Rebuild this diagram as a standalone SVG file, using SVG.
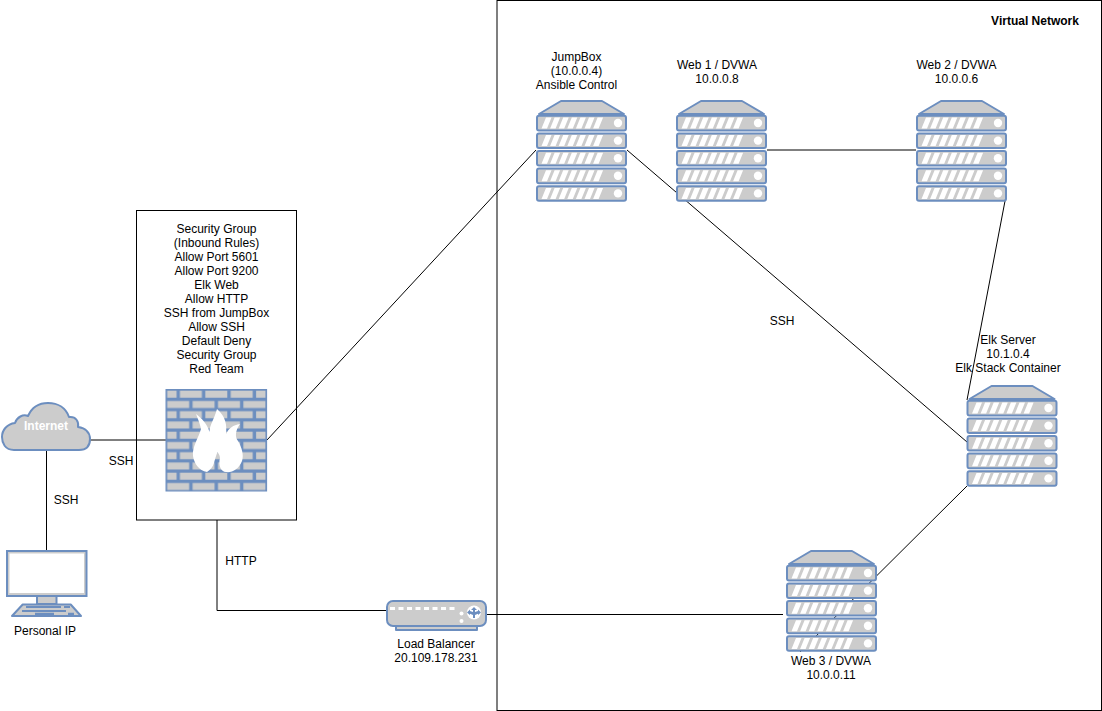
<svg xmlns="http://www.w3.org/2000/svg" width="1102" height="711" viewBox="0 0 1102 711">
<style>
text{font-family:"Liberation Sans",Arial,sans-serif;font-size:12px;fill:#000;text-anchor:middle}
.b{font-weight:bold}
.w{fill:#fff}
.line{fill:none;stroke:#000;stroke-width:1}
.box{fill:#fff;stroke:#000;stroke-width:1}
.g{fill:#ccc;stroke:#6c8ebf;stroke-width:2;stroke-linejoin:round}
.blue{fill:#6c8ebf}
.white{fill:#fff}
</style>
<defs>
<g id="slot">
<rect class="g" x="1" y="0.800" width="89" height="14.600" rx="2"/>
<path class="white" d="M5.500 13.500L10 2.500H15.500L11 13.500ZM14.100 13.500L18.600 2.500H24.100L19.600 13.500ZM22.700 13.500L27.200 2.500H32.700L28.200 13.500ZM31.300 13.500L35.800 2.500H41.300L36.800 13.500ZM39.900 13.500L44.400 2.500H49.900L45.400 13.500ZM48.500 13.500L53 2.500H58.500L54 13.500ZM57.100 13.500L61.600 2.500H67.100L62.600 13.500Z"/>
<circle class="white" cx="82" cy="8" r="4.200"/>
</g>
<g id="server">
<path class="g" d="M3 14L25 1H66L88 14Z"/>
<use href="#slot" y="15"/>
<use href="#slot" y="32.600"/>
<use href="#slot" y="50.200"/>
<use href="#slot" y="67.800"/>
<use href="#slot" y="85.400"/>
</g>
<pattern id="bricks" patternUnits="userSpaceOnUse" x="165.500" y="389" width="101.600" height="20.500">
<rect width="101.600" height="20.500" fill="#6c8ebf"/>
<g fill="#ccc">
<rect x="1.700" y="1.700" width="9.400" height="7"/>
<rect x="14.400" y="1.700" width="22" height="7"/>
<rect x="39.800" y="1.700" width="22" height="7"/>
<rect x="65.200" y="1.700" width="22" height="7"/>
<rect x="90.600" y="1.700" width="9.400" height="7"/>
<rect x="1.700" y="12" width="22" height="7"/>
<rect x="27.100" y="12" width="22" height="7"/>
<rect x="52.500" y="12" width="22" height="7"/>
<rect x="77.900" y="12" width="22" height="7"/>
</g>
</pattern>
</defs>
<rect id="virtual-network" class="box" x="497" y="0.500" width="604.500" height="710"/>
<rect id="security-group" class="box" x="136.500" y="210.500" width="160" height="309.500"/>
<g id="connectors">
<path class="line" d="M88 440H166"/>
<path class="line" d="M46.500 450V550"/>
<path class="line" d="M217 520V610.500H386"/>
<path class="line" d="M487 614.500H783"/>
<path class="line" d="M267 440L536 150"/>
<path class="line" d="M627 150L967 442"/>
<path class="line" d="M767 150H916"/>
<path class="line" d="M1005 201L967 400"/>
<path class="line" d="M967 486L800 652"/>
</g>
<g id="jumpbox"><use href="#server" x="536" y="100"/>
<text x="576.500" y="61">JumpBox</text><text x="576.500" y="75">(10.0.0.4)</text><text x="576.500" y="89">Ansible Control</text></g>
<g id="web1"><use href="#server" x="676" y="100"/>
<text x="717" y="69">Web 1 / DVWA</text><text x="717" y="83">10.0.0.8</text></g>
<g id="web2"><use href="#server" x="916" y="100"/>
<text x="956.500" y="69">Web 2 / DVWA</text><text x="956.500" y="83">10.0.0.6</text></g>
<g id="elk"><use href="#server" x="966.500" y="385"/>
<text x="1008" y="344">Elk Server</text><text x="1008" y="358">10.1.0.4</text><text x="1008" y="372">Elk Stack Container</text></g>
<g id="web3"><use href="#server" x="786" y="550"/>
<text x="831" y="665">Web 3 / DVWA</text><text x="831" y="679">10.0.0.11</text></g>
<g id="firewall">
<rect x="165.500" y="389" width="101.600" height="102.500" fill="url(#bricks)"/>
<path class="white" d="M217 409C226 417 227 425 226 434C229 428 233 425 240 424C235 431 235 437 238 441C242 448 244 455 242 461C239 469 232 473 226 472C221 472 218 465 220 458C220 455 218 453 217.500 452C216 456 215 459 214 463C213 467 210 470 207 472C199 471 194 463 193 456C192 447 198 439 201 429C200 424 198 419 196 414C201 418 207 423 209.500 432C209.500 425 214 420 217 409Z"/>
</g>
<g id="security-label">
<text x="216.500" y="233">Security Group</text>
<text x="216.500" y="247">(Inbound Rules)</text>
<text x="216.500" y="261">Allow Port 5601</text>
<text x="216.500" y="275">Allow Port 9200</text>
<text x="216.500" y="289">Elk Web</text>
<text x="216.500" y="303">Allow HTTP</text>
<text x="216.500" y="317">SSH from JumpBox</text>
<text x="216.500" y="331">Allow SSH</text>
<text x="216.500" y="345">Default Deny</text>
<text x="216.500" y="359">Security Group</text>
<text x="216.500" y="373">Red Team</text>
</g>
<g id="internet">
<path class="g" d="M14 450C5 450 2 443 2 437C2 430 7 424 15 423C17 417 23 414 28 416C32 407 40 403 48 403C58 403 66 408 69 417C76 416 79 422 78 427C86 428 90 433 90 439C90 446 86 450 79 450Z"/>
<text class="b w" x="46" y="430">Internet</text>
</g>
<g id="personal-ip">
<rect x="7" y="551" width="79.500" height="45" fill="#ccc" stroke="#6c8ebf" stroke-width="2"/>
<rect x="9.500" y="553.500" width="74.500" height="39.500" fill="#fff"/>
<rect class="g" x="37" y="596" width="19.500" height="8"/>
<path class="g" d="M22.700 604.500H70.700L81 616H12Z"/>
<path class="blue" d="M26 606H61V608H26ZM64 606H70V608H64ZM22 610H66V612H22ZM35 612.700H54V615H35ZM68 612.700H74V615H68Z"/>
<text x="45" y="635">Personal IP</text>
</g>
<g id="load-balancer">
<path class="g" d="M396 626H477V630H396Z"/>
<rect class="g" x="387" y="601" width="99" height="25" rx="6"/>
<path class="white" d="M390 607h5v3h-5zM398.500 607h5v3h-5zM407 607h5v3h-5zM415.500 607h5v3h-5zM424 607h5v3h-5zM432.500 607h5v3h-5zM441 607h5v3h-5zM449.500 607h5v3h-5z"/>
<circle class="white" cx="461.500" cy="613.500" r="2"/>
<circle class="white" cx="461.500" cy="621" r="2"/>
<circle class="white" cx="474" cy="612.500" r="7"/>
<path class="blue" d="M474 607L477 610H475V612L478 611V609.500L481 612.500L478 615V613.800L475 615V618H473V615L470 613.800V615L467 612.500L470 609.500V611L473 612V610H471Z"/>
<text x="436" y="648">Load Balancer</text>
<text x="436" y="662">20.109.178.231</text>
</g>
<g id="labels">
<text class="b" x="1035" y="25">Virtual Network</text>
<text x="782" y="325">SSH</text>
<text x="66" y="504">SSH</text>
<text x="121" y="465">SSH</text>
<text x="241" y="565">HTTP</text>
</g>
</svg>
